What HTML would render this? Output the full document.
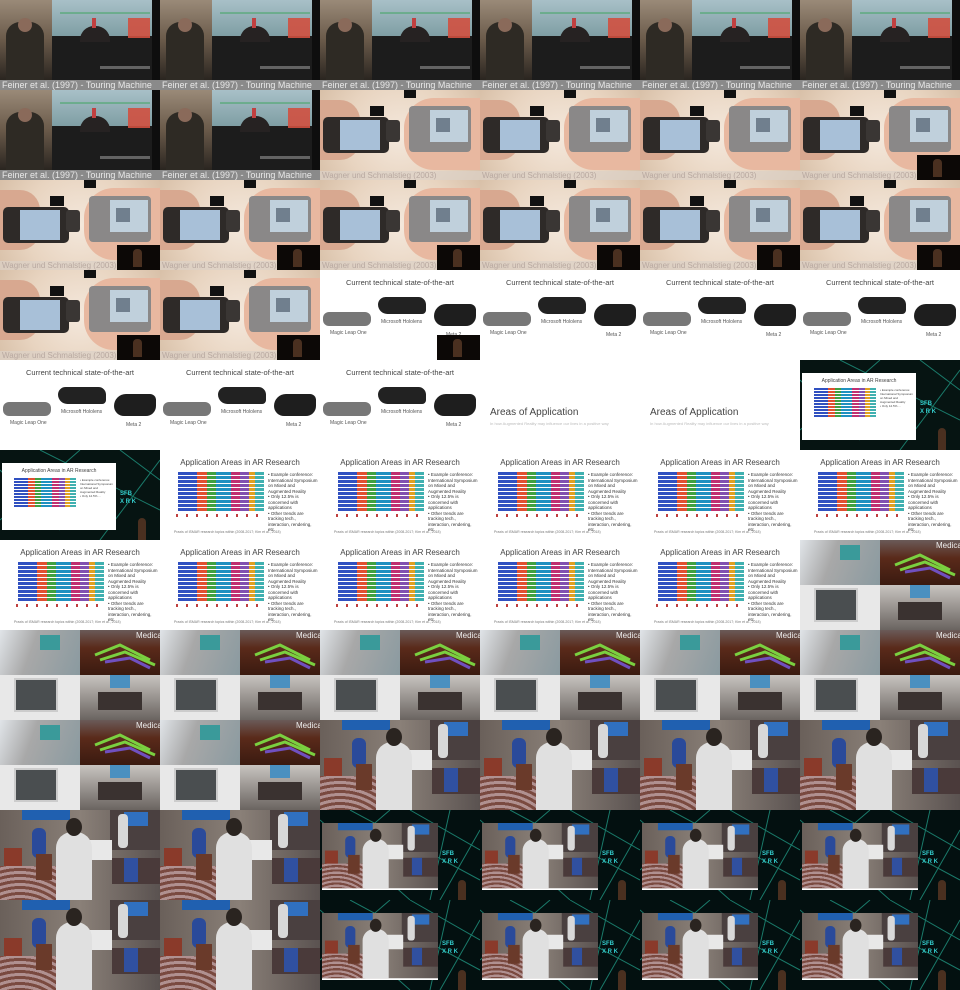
<!DOCTYPE html>
<html><head><meta charset="utf-8">
<style>
*{margin:0;padding:0;box-sizing:border-box}
body{width:960px;height:990px;overflow:hidden;background:#111;font-family:"Liberation Sans",sans-serif}
#grid{display:grid;grid-template-columns:repeat(6,160px);grid-template-rows:repeat(11,90px)}
.t{position:relative;width:160px;height:90px;overflow:hidden}
.a{position:absolute}
.cap{position:absolute;left:2px;bottom:0px;font-size:9px;color:#e8e8e8;white-space:nowrap}
</style></head><body>
<div id="grid"></div>
<script>
const tiles = [
"tour","tour","tour","tour","tour","tour",
"tour","tour","hand","hand","hand","handS",
"handS","handS","handS","handS","handS","handS",
"handS","handS","stateS","state","state","state",
"state","state","state","areas","areas","dark",
"dark","app","app","app","app","app",
"app","app","app","app","app","med",
"med","med","med","med","med","med",
"med","med","room","room","room","room",
"room","room","net","net","net","net",
"room","room","net","net","net","net"
];
const speaker=`<div class="a" style="left:117px;top:65px;width:43px;height:25px;background:#0c0806"></div>
<div class="a" style="left:133px;top:69px;width:9px;height:18px;background:#4a3020;border-radius:4px 4px 0 0"></div>`;
function tour(){return `<div class="a" style="inset:0;background:#1e1e1e"></div>
<div class="a" style="left:0;top:0;width:52px;height:80px;background:linear-gradient(#9a8a78,#6a5a4a 50%,#2a2520)"></div>
<div class="a" style="left:52px;top:0;width:100px;height:40px;background:linear-gradient(#a8c0c8,#7a9aa0)"></div>
<div class="a" style="left:52px;top:36px;width:100px;height:44px;background:#1c1c1c"></div>
<div class="a" style="left:80px;top:26px;width:30px;height:16px;background:#262222;border-radius:14px 14px 0 0"></div>
<div class="a" style="left:92px;top:18px;width:4px;height:10px;background:#c04040"></div>
<div class="a" style="left:128px;top:18px;width:22px;height:20px;background:#d05040;opacity:.9"></div>
<div class="a" style="left:60px;top:12px;width:90px;height:2px;background:#5aaa7a;opacity:.7"></div>
<div class="a" style="left:100px;top:66px;width:50px;height:3px;background:#aaa;opacity:.5"></div>
<div class="a" style="left:6px;top:22px;width:38px;height:58px;background:#2e2a24;border-radius:14px 14px 0 0"></div>
<div class="a" style="left:18px;top:18px;width:14px;height:14px;background:#8a6a5a;border-radius:50%"></div>
<div class="a" style="left:152px;top:0;width:8px;height:80px;background:#0e0e0e"></div>
<div class="a" style="left:0;bottom:0;width:160px;height:10px;background:#8a8a8a"></div>
<div class="cap">Feiner et al. (1997) - Touring Machine</div>`}
function handBase(){return `<div class="a" style="inset:0;background:radial-gradient(circle at 50% 50%,#f4e8dc,#e8d4c0 60%,#d8c0a8)"></div>
<div class="a" style="left:84px;top:8px;width:76px;height:72px;background:#e8b8a0;border-radius:30px 0 0 30px"></div>
<div class="a" style="left:0;top:10px;width:40px;height:60px;background:#d8a890;border-radius:0 20px 20px 0"></div>
<div class="a" style="left:84px;top:0;width:12px;height:8px;background:#111"></div>
<div class="a" style="left:50px;top:16px;width:14px;height:10px;background:#111"></div>
<div class="a" style="left:3px;top:27px;width:66px;height:36px;background:#2e2a28;border-radius:5px"></div>
<div class="a" style="left:20px;top:30px;width:40px;height:30px;background:#a8c0d8"></div>
<div class="a" style="left:66px;top:30px;width:14px;height:22px;background:#3a3634;border-radius:3px"></div>
<div class="a" style="left:89px;top:16px;width:62px;height:46px;background:#8a8888;border-radius:4px"></div>
<div class="a" style="left:110px;top:20px;width:38px;height:32px;background:#c0d0dc"></div>
<div class="a" style="left:116px;top:28px;width:14px;height:14px;background:#3a4a5a;opacity:.6"></div>
<div class="a" style="left:0;bottom:0;width:160px;height:9px;background:rgba(220,210,200,.7)"></div>
<div class="cap" style="color:#b8a8a0;font-size:8px">Wagner und Schmalstieg (2003)</div>`}
function hand(){return handBase()}
function handS(){return handBase()+speaker}
function stateBase(){return `<div class="a" style="inset:0;background:#fff"></div>
<div class="a" style="left:0;top:8px;width:160px;text-align:center;font-size:7.5px;color:#444">Current technical state-of-the-art</div>
<div class="a" style="left:3px;top:42px;width:48px;height:14px;background:#777;border-radius:6px"></div>
<div class="a" style="left:58px;top:27px;width:48px;height:17px;background:#222;border-radius:8px 8px 4px 10px"></div>
<div class="a" style="left:114px;top:34px;width:42px;height:22px;background:#1e1e1e;border-radius:12px 6px 10px 10px"></div>
<div class="a" style="left:10px;top:60px;font-size:5px;color:#555">Magic Leap One</div>
<div class="a" style="left:61px;top:49px;font-size:5px;color:#555">Microsoft Hololens</div>
<div class="a" style="left:126px;top:62px;font-size:5px;color:#555">Meta 2</div>`}
function state(){return stateBase()}
function stateS(){return stateBase()+speaker}
function areas(){return `<div class="a" style="inset:0;background:#fff"></div>
<div class="a" style="left:10px;top:47px;font-size:10px;color:#444">Areas of Application</div>
<div class="a" style="left:10px;top:61px;font-size:4px;color:#bbb">In how Augmented Reality may influence our lives in a positive way</div>`}
const cols=["#3050c0","#e05030","#40a040","#2090c0","#c03070","#8050b0","#e0a020","#40b0b0"];
const widths=[22,12,10,18,10,10,8,10];
function bars(x,y,w,n,h){let s="";for(let i=0;i<n;i++){let cx=x;widths.forEach((v,j)=>{const ww=w*v/100;s+=`<div class="a" style="left:${cx}px;top:${y+i*h}px;width:${ww}px;height:${h-1}px;background:${cols[j]}"></div>`;cx+=ww;});}return s;}
function app(){return `<div class="a" style="inset:0;background:#fff"></div>
<div class="a" style="left:0;top:8px;width:160px;text-align:center;font-size:8px;color:#444">Application Areas in AR Research</div>
${bars(18,22,86,10,4)}
<div class="a" style="left:16px;top:64px;width:86px;height:3px;background:repeating-linear-gradient(90deg,#c04040 0 2px,#fff 2px 10px)"></div>
<div class="a" style="left:108px;top:22px;width:50px;font-size:4.5px;line-height:5.5px;color:#333">• Example conference: International Symposium on Mixed and Augmented Reality<br>• Only 12.5% is concerned with applications<br>• Other trends are tracking tech., interaction, rendering, etc.</div>
<div class="a" style="left:14px;top:80px;font-size:3.5px;color:#777">Praxis of ISMAR research topics within (2008-2017; Kim et al., 2018)</div>`}
function dark(){return `<div class="a" style="inset:0;background:#061412"></div>
<svg class="a" style="inset:0" width="160" height="90"><path d="M0 20L60 80M40 0L160 60M100 90L160 10M0 70L80 0M120 0L160 30" stroke="#1a7a6a" stroke-width="1" fill="none"/></svg>
<div class="a" style="left:2px;top:13px;width:114px;height:67px;background:#fff"></div>
<div class="a" style="left:2px;top:18px;width:114px;text-align:center;font-size:5px;color:#444">Application Areas in AR Research</div>
${bars(14,28,62,10,3)}
<div class="a" style="left:80px;top:28px;width:34px;font-size:3px;line-height:4px;color:#444">• Example conference: International Symposium on Mixed and Augmented Reality<br>• Only 12.5% ...</div>
<div class="a" style="left:120px;top:40px;font-size:6px;color:#3cc;font-weight:bold;line-height:8px">SFB<br>X R K</div>
<div class="a" style="left:138px;top:68px;width:8px;height:22px;background:#4a3020;border-radius:4px 4px 0 0"></div>`}
function med(){return `<div class="a" style="left:0;top:0;width:80px;height:45px;background:linear-gradient(110deg,#e0e4e8,#a8a8a8 40%,#8a9aa0)"></div>
<div class="a" style="left:40px;top:5px;width:20px;height:15px;background:#3a9a9a"></div>
<div class="a" style="left:80px;top:0;width:80px;height:45px;background:linear-gradient(#6a5a58,#5a2a1a 40%,#3a1a10)"></div>
<svg class="a" style="left:80px;top:0" width="80" height="45"><path d="M15 25L40 15L70 30M20 30L45 22L75 35" stroke="#7ad040" stroke-width="3" fill="none"/><path d="M25 32L50 28L70 38" stroke="#7050c0" stroke-width="3" fill="none"/></svg>
<div class="a" style="left:0;top:45px;width:80px;height:45px;background:#e8e8e8"></div>
<div class="a" style="left:14px;top:48px;width:44px;height:34px;background:#4a4e50;border:2px solid #ccc"></div>
<div class="a" style="left:80px;top:45px;width:80px;height:45px;background:linear-gradient(#c8c4c0,#6a6460)"></div>
<div class="a" style="left:110px;top:45px;width:20px;height:13px;background:#4a90c0"></div>
<div class="a" style="left:98px;top:62px;width:44px;height:18px;background:#3a3230"></div>
<div class="a" style="left:136px;top:1px;font-size:8px;color:#eee">Medical</div>`}
function roomInner(){return `<div class="a" style="inset:0;background:linear-gradient(90deg,#6a605a,#8a8078 50%,#5a5250)"></div>
<div class="a" style="left:22px;top:0;width:48px;height:10px;background:#2060b0"></div>
<div class="a" style="left:110px;top:0;width:50px;height:40px;background:#4a4040"></div>
<div class="a" style="left:124px;top:2px;width:24px;height:14px;background:#3070c0"></div>
<div class="a" style="left:0;top:56px;width:60px;height:34px;background:repeating-radial-gradient(circle at 20px 80px,#b09090 0 3px,#7a4a40 3px 6px)"></div>
<div class="a" style="left:4px;top:38px;width:18px;height:18px;background:#8a3a2a"></div>
<div class="a" style="left:32px;top:18px;width:14px;height:30px;background:#2a4a9a;border-radius:6px"></div>
<div class="a" style="left:36px;top:44px;width:16px;height:26px;background:#6a3a2a"></div>
<div class="a" style="left:88px;top:30px;width:24px;height:20px;background:#e8e8e8"></div>
<div class="a" style="left:118px;top:4px;width:10px;height:34px;background:#d8d8d8;border-radius:4px"></div>
<div class="a" style="left:112px;top:48px;width:48px;height:26px;background:#4a3a3a"></div>
<div class="a" style="left:124px;top:48px;width:14px;height:24px;background:#3050a0"></div>
<div class="a" style="left:56px;top:22px;width:36px;height:68px;background:#e0e0e0;border-radius:16px 16px 0 0"></div>
<div class="a" style="left:66px;top:8px;width:16px;height:18px;background:#2a2420;border-radius:50%"></div>`}
function room(){return roomInner()}
function net(){return `<div class="a" style="inset:0;background:#031010"></div>
<svg class="a" style="inset:0" width="160" height="90"><path d="M0 10L90 90M30 0L160 70M120 90L160 20M0 60L70 0M90 0L160 40M130 0L110 90" stroke="#1a7a6a" stroke-width="1" fill="none"/></svg>
<div class="a" style="left:2px;top:13px;width:116px;height:67px;overflow:hidden;background:#fff"><div class="a" style="left:0;top:0;width:160px;height:90px;transform:scale(.725);transform-origin:0 0">${roomInner()}</div></div>
<div class="a" style="left:122px;top:40px;font-size:6px;color:#3cc;font-weight:bold;line-height:8px">SFB<br>X R K</div>
<div class="a" style="left:138px;top:70px;width:8px;height:20px;background:#4a3020;border-radius:4px 4px 0 0"></div>`}
const F={tour,hand,handS,state,stateS,areas,app,dark,med,room,net};
const g=document.getElementById('grid');
tiles.forEach((k,i)=>{const d=document.createElement('div');d.className='t';


d.innerHTML=F[k]();g.appendChild(d);});
</script>
</body></html>
